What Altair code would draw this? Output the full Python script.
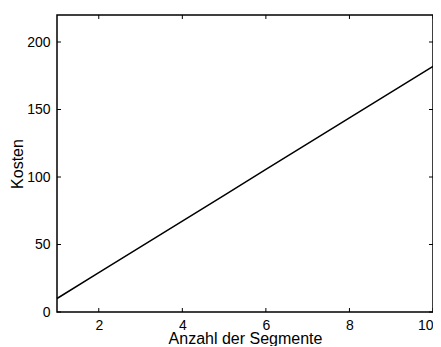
import altair as alt
import pandas as pd

segments = [1, 2, 3, 4, 5, 6, 7, 8, 9, 10]
kosten = [10, 29.1, 48.2, 67.3, 86.4, 105.6, 124.7, 143.8, 162.9, 182]
x_ticks = [2, 4, 6, 8, 10]
y_ticks = [0, 50, 100, 150, 200]

W, H = 376, 297
FONT = "Liberation Sans"

df = pd.DataFrame({"n": segments, "k": kosten})
xt = pd.DataFrame({"v": x_ticks})
yt = pd.DataFrame({"v": y_ticks})

xs = alt.Scale(domain=[1, 10], nice=False, zero=False)
ys = alt.Scale(domain=[0, 220], nice=False)

line = alt.Chart(df).mark_line(color="black", strokeWidth=1.5).encode(
    x=alt.X("n:Q", scale=xs, title="Anzahl der Segmente",
            axis=alt.Axis(values=x_ticks, ticks=False, labelPadding=6,
                          titleY=31, titleBaseline="alphabetic",
                          grid=False, domain=False)),
    y=alt.Y("k:Q", scale=ys, title="Kosten",
            axis=alt.Axis(values=y_ticks, ticks=False, labelPadding=7,
                          titleX=-35, titleBaseline="alphabetic",
                          grid=False, domain=False)),
)

tick_style = dict(color="black", strokeWidth=1)
xb = alt.Chart(xt).mark_rule(**tick_style).encode(x=alt.X("v:Q", scale=xs), y=alt.value(H), y2=alt.value(H - 4))
xtop = alt.Chart(xt).mark_rule(**tick_style).encode(x=alt.X("v:Q", scale=xs), y=alt.value(0), y2=alt.value(4))
yl = alt.Chart(yt).mark_rule(**tick_style).encode(y=alt.Y("v:Q", scale=ys), x=alt.value(0), x2=alt.value(4))
yr = alt.Chart(yt).mark_rule(**tick_style).encode(y=alt.Y("v:Q", scale=ys), x=alt.value(W - 4), x2=alt.value(W))

chart = alt.layer(line, xb, xtop, yl, yr).properties(
    width=W, height=H,
    autosize=alt.AutoSizeParams(type="none"),
    padding={"left": 49, "top": 7, "right": 0, "bottom": 34},
    background="white",
).configure_view(
    stroke="black", strokeWidth=1.5
).configure_axis(
    labelFont=FONT, titleFont=FONT, labelFontSize=14, titleFontSize=16,
    titleFontWeight="normal", labelColor="black", titleColor="black",
)

chart.save("out.html", embed_options={"renderer": "svg", "actions": False})
